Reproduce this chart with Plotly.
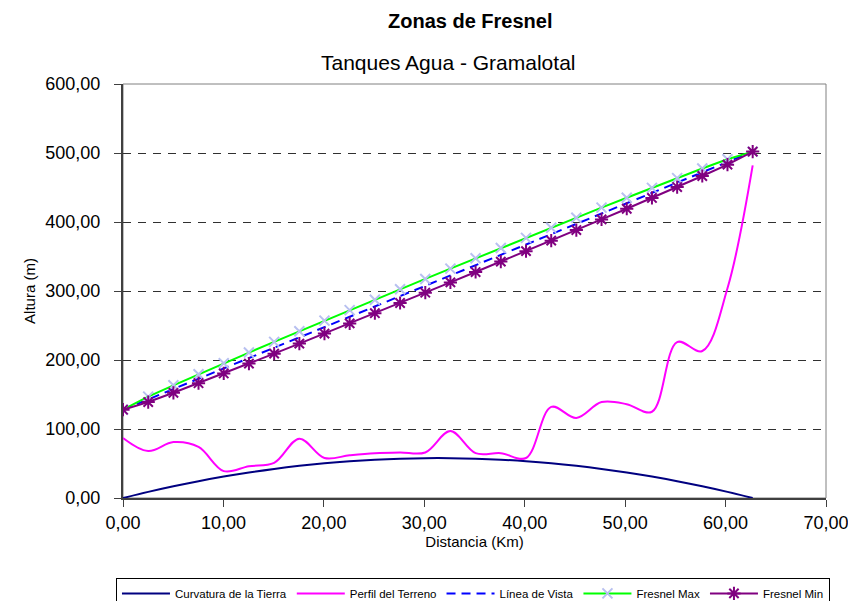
import plotly.graph_objects as go

distancia_km = [0.00, 2.51, 5.02, 7.52, 10.03, 12.54, 15.05, 17.56, 20.06, 22.57,
                25.08, 27.59, 30.10, 32.60, 35.11, 37.62, 40.13, 42.64, 45.14, 47.65,
                50.16, 52.67, 55.18, 57.68, 60.19, 62.70]

curvatura_tierra = [0.00, 8.88, 17.02, 24.42, 31.08, 37.00, 42.18, 46.62, 50.32, 53.28,
                    55.50, 56.98, 57.72, 57.72, 56.98, 55.50, 53.28, 50.32, 46.62, 42.18,
                    37.00, 31.08, 24.42, 17.02, 8.88, 0.00]

perfil_terreno = [87, 68, 81, 74, 39, 46, 51, 86, 58, 62,
                  65, 66, 66, 97, 65, 65, 58, 132, 116, 139,
                  136, 125, 226, 213, 304, 482]

linea_vista = [128.00, 142.96, 157.92, 172.88, 187.84, 202.80, 217.76, 232.72, 247.68, 262.64,
               277.60, 292.56, 307.52, 322.48, 337.44, 352.40, 367.36, 382.32, 397.28, 412.24,
               427.20, 442.16, 457.12, 472.08, 487.04, 502.00]

fresnel_max = [128.00, 146.88, 163.35, 179.38, 195.17, 210.80, 226.30, 241.70, 257.01, 272.24,
               287.40, 302.49, 317.51, 332.47, 347.37, 362.20, 376.96, 391.65, 406.26, 420.78,
               435.20, 449.49, 463.62, 477.51, 490.96, 502.00]

fresnel_min = [128.00, 139.04, 152.49, 166.38, 180.51, 194.80, 209.22, 223.74, 238.35, 253.04,
               267.80, 282.63, 297.53, 312.49, 327.51, 342.60, 357.76, 372.99, 388.30, 403.70,
               419.20, 434.83, 450.62, 466.65, 483.12, 502.00]

y_ticks = [0, 100, 200, 300, 400, 500, 600]
x_ticks = [0, 10, 20, 30, 40, 50, 60, 70]

FONT = "Liberation Sans, Arial, sans-serif"

fig = go.Figure()
fig.add_trace(go.Scatter(x=distancia_km, y=curvatura_tierra, mode="lines",
                         name="Curvatura de la Tierra",
                         line=dict(color="#000080", width=2, shape="spline")))
fig.add_trace(go.Scatter(x=distancia_km, y=perfil_terreno, mode="lines",
                         name="Perfil del Terreno",
                         line=dict(color="#ff00ff", width=2, shape="spline")))
fig.add_trace(go.Scatter(x=distancia_km, y=linea_vista, mode="lines",
                         name="Línea de Vista",
                         line=dict(color="#0000ff", width=2, dash="9px,6px")))
fig.add_trace(go.Scatter(x=distancia_km, y=fresnel_max, mode="lines+markers",
                         name="Fresnel Max",
                         line=dict(color="#00ff00", width=2),
                         marker=dict(symbol="x-thin", size=10,
                                     line=dict(color="#b8c0f0", width=2),
                                     color="#b8c0f0")))
fig.add_trace(go.Scatter(x=distancia_km, y=fresnel_min, mode="lines+markers",
                         name="Fresnel Min",
                         line=dict(color="#800080", width=2),
                         marker=dict(symbol="asterisk-open", size=11,
                                     line=dict(color="#800080", width=2),
                                     color="#800080")))

fig.update_layout(
    width=848, height=593,
    margin=dict(l=115, r=30, t=76, b=103, autoexpand=False),
    paper_bgcolor="white", plot_bgcolor="white",
    font=dict(family=FONT, color="black"),
    separators=",.",
    showlegend=True,
    legend=dict(orientation="h", x=-0.01, xanchor="left", y=-0.193, yanchor="top",
                bordercolor="black", borderwidth=1, font=dict(size=11.5, family=FONT),
                itemwidth=48, tracegroupgap=0),
    shapes=[dict(type="rect", xref="paper", yref="paper", x0=0, x1=1, y0=0, y1=1,
                 line=dict(color="#808080", width=1), layer="below")],
)

fig.add_annotation(text="<b>Zonas de Fresnel</b>", xref="paper", yref="paper",
                   x=0.494, y=1.0, yshift=63, showarrow=False, yanchor="middle",
                   font=dict(size=20, family=FONT))
fig.add_annotation(text="Tanques Agua - Gramalotal", xref="paper", yref="paper",
                   x=0.462, y=1.0, yshift=22, showarrow=False, yanchor="middle",
                   font=dict(size=21, family=FONT))

fig.update_xaxes(range=[0, 70], tickvals=x_ticks, tickformat=".2f",
                 showgrid=False, zeroline=False, automargin=False,
                 showline=True, linecolor="#404040", linewidth=2,
                 ticks="outside", ticklen=7, tickcolor="#404040", tickwidth=1,
                 tickfont=dict(size=18, family=FONT),
                 title=dict(text="Distancia (Km)", font=dict(size=15, family=FONT), standoff=2))
fig.update_yaxes(range=[0, 600], tickvals=y_ticks, tickformat=".2f",
                 showgrid=True, gridcolor="#303030", griddash="8px,7px", gridwidth=1,
                 zeroline=False, automargin=False,
                 showline=True, linecolor="#404040", linewidth=2,
                 ticks="outside", ticklen=7, tickcolor="#404040", tickwidth=1,
                 ticklabelstandoff=10,
                 tickfont=dict(size=18, family=FONT),
                 title=dict(text="Altura (m)", font=dict(size=15, family=FONT), standoff=6))

fig.write_html("out.html")
